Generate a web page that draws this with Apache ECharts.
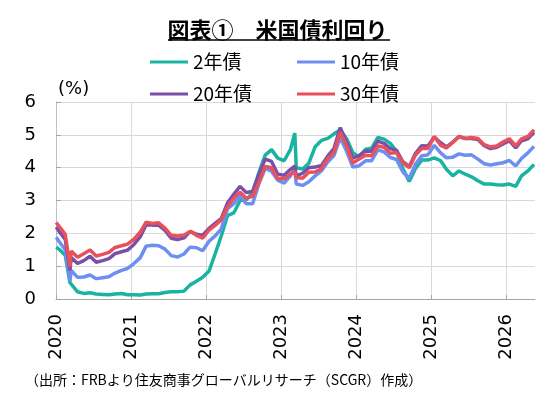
<!DOCTYPE html>
<html>
<head>
<meta charset="utf-8">
<script src="https://cdn.jsdelivr.net/npm/echarts@6/dist/echarts.min.js"></script>
<style>
  html, body { margin: 0; padding: 0; background: #fff; }
  #main { width: 555px; height: 401px; }
</style>
</head>
<body>
<div id="main"></div>
<script>
// yields (%), mostly mid-month readings plus a few turning points
var dates = [
  "2020-01-02", "2020-01-15", "2020-02-15", "2020-03-09", "2020-03-15", "2020-04-15", "2020-05-15",
  "2020-06-15", "2020-07-15", "2020-08-15", "2020-09-15", "2020-10-15", "2020-11-15", "2020-12-15",
  "2021-01-15", "2021-02-15", "2021-03-15", "2021-04-15", "2021-05-15", "2021-06-15",
  "2021-07-15", "2021-08-15", "2021-09-15", "2021-10-15", "2021-11-15", "2021-12-15",
  "2022-01-15", "2022-02-15", "2022-03-15", "2022-04-15", "2022-05-15", "2022-06-15",
  "2022-07-15", "2022-08-15", "2022-09-15", "2022-10-15", "2022-11-15", "2022-12-15",
  "2023-01-15", "2023-02-15", "2023-03-08", "2023-03-15", "2023-04-15", "2023-05-15", "2023-06-15",
  "2023-07-15", "2023-08-15", "2023-09-15", "2023-10-15", "2023-11-15", "2023-12-15",
  "2024-01-15", "2024-02-15", "2024-03-15", "2024-04-15", "2024-05-15", "2024-06-15",
  "2024-07-15", "2024-08-15", "2024-09-15", "2024-10-15", "2024-11-15", "2024-12-15",
  "2025-01-15", "2025-02-15", "2025-03-15", "2025-04-15", "2025-05-15", "2025-06-15",
  "2025-07-15", "2025-08-15", "2025-09-15", "2025-10-15", "2025-11-15", "2025-12-15",
  "2026-01-15", "2026-02-15", "2026-03-15", "2026-04-15", "2026-05-15"
];

var y2 = [
  1.58, 1.52, 1.33, 0.50, 0.45, 0.22, 0.17, 0.19, 0.15, 0.14, 0.13, 0.15, 0.17, 0.13,
  0.13, 0.12, 0.15, 0.16, 0.16, 0.20, 0.22, 0.22, 0.24, 0.43, 0.54, 0.66,
  0.85, 1.40, 1.91, 2.54, 2.62, 3.00, 3.02, 3.25, 3.86, 4.38, 4.55, 4.29,
  4.21, 4.56, 5.05, 4.00, 3.96, 4.13, 4.64, 4.83, 4.89, 5.03, 5.15, 4.88, 4.46,
  4.32, 4.56, 4.59, 4.92, 4.87, 4.74, 4.50, 3.97, 3.58, 3.97, 4.23, 4.23,
  4.30, 4.21, 3.95, 3.75, 3.90, 3.80, 3.72, 3.60, 3.50, 3.50, 3.48, 3.47,
  3.50, 3.43, 3.75, 3.90, 4.10
];
var y10 = [
  1.88, 1.76, 1.50, 0.54, 0.87, 0.66, 0.67, 0.73, 0.62, 0.65, 0.68, 0.79, 0.87, 0.93,
  1.08, 1.26, 1.61, 1.64, 1.62, 1.52, 1.32, 1.28, 1.37, 1.58, 1.56, 1.47,
  1.76, 1.93, 2.13, 2.75, 2.90, 3.14, 2.90, 2.90, 3.52, 3.98, 3.89, 3.62,
  3.53, 3.75, 3.98, 3.50, 3.46, 3.57, 3.75, 3.90, 4.17, 4.38, 4.92, 4.50, 4.02,
  4.06, 4.21, 4.21, 4.54, 4.48, 4.31, 4.25, 3.87, 3.68, 4.10, 4.36, 4.39,
  4.68, 4.45, 4.30, 4.32, 4.42, 4.38, 4.39, 4.26, 4.12, 4.08, 4.12, 4.15,
  4.22, 4.05, 4.28, 4.45, 4.65
];
var y20 = [
  2.19, 2.07, 1.81, 0.87, 1.26, 1.08, 1.17, 1.30, 1.12, 1.17, 1.23, 1.38, 1.44, 1.49,
  1.66, 1.90, 2.26, 2.25, 2.25, 2.09, 1.85, 1.81, 1.86, 2.06, 1.97, 1.94,
  2.15, 2.31, 2.45, 2.93, 3.19, 3.43, 3.24, 3.28, 3.81, 4.26, 4.19, 3.80,
  3.77, 3.95, 4.05, 3.75, 3.83, 4.00, 4.02, 4.06, 4.35, 4.59, 5.22, 4.77, 4.29,
  4.37, 4.51, 4.50, 4.81, 4.74, 4.58, 4.53, 4.18, 4.03, 4.43, 4.67, 4.66,
  4.93, 4.76, 4.63, 4.78, 4.95, 4.89, 4.89, 4.86, 4.67, 4.58, 4.62, 4.72,
  4.82, 4.60, 4.82, 4.88, 5.08
];
var y30 = [
  2.33, 2.22, 1.97, 0.99, 1.46, 1.27, 1.38, 1.49, 1.31, 1.36, 1.42, 1.57, 1.62, 1.67,
  1.82, 2.04, 2.34, 2.30, 2.32, 2.16, 1.94, 1.92, 1.94, 2.06, 1.94, 1.85,
  2.10, 2.25, 2.41, 2.81, 3.07, 3.25, 3.07, 3.13, 3.56, 4.04, 4.00, 3.66,
  3.66, 3.80, 3.88, 3.70, 3.68, 3.86, 3.87, 3.96, 4.28, 4.47, 5.08, 4.66, 4.14,
  4.26, 4.38, 4.36, 4.66, 4.62, 4.44, 4.46, 4.15, 4.00, 4.38, 4.58, 4.58,
  4.95, 4.68, 4.60, 4.77, 4.94, 4.89, 4.92, 4.89, 4.70, 4.63, 4.66, 4.78,
  4.88, 4.66, 4.88, 4.95, 5.15
];

var yearTicks = [2020, 2021, 2022, 2023, 2024, 2025, 2026];
var seriesNames = ["2年債", "10年債", "20年債", "30年債"];
var seriesColors = ["#19b3a2", "#6e8ff2", "#7a4fa8", "#e8505b"];

// "YYYY-MM-DD" -> decimal year
function decYear(s) {
  var p = s.split("-").map(Number);
  var t0 = Date.UTC(p[0], 0, 1), t1 = Date.UTC(p[0] + 1, 0, 1);
  return p[0] + (Date.UTC(p[0], p[1] - 1, p[2]) - t0) / (t1 - t0);
}
function toPoints(arr) {
  return arr.map(function (v, i) { return [decYear(dates[i]), v]; });
}

var numFont = "DejaVu Sans, Noto Sans CJK JP, sans-serif";
var jpFont = "Noto Sans CJK JP, sans-serif";

var myChart = echarts.init(document.getElementById("main"));
var option = {
  animation: false,
  title: [
    {
      text: "図表①　米国債利回り",
      left: "center",
      top: 14,
      textStyle: { fontFamily: jpFont, fontSize: 22, fontWeight: "bold", color: "#000" }
    },
    {
      text: "（出所：FRBより住友商事グローバルリサーチ（SCGR）作成）",
      left: 20,
      top: 368,
      textStyle: { fontFamily: jpFont, fontSize: 14, fontWeight: "normal", color: "#000" }
    }
  ],
  graphic: [
    {
      type: "line",
      shape: { x1: 168, y1: 40, x2: 390, y2: 40 },
      style: { stroke: "#404040", lineWidth: 2 }
    }
  ],
  legend: [
    {
      data: [seriesNames[0], seriesNames[2]],
      orient: "vertical",
      left: 145,
      top: 47,
      itemWidth: 38,
      itemHeight: 3,
      itemGap: 12,
      icon: "rect",
      textStyle: { fontFamily: jpFont, fontSize: 19, color: "#000", lineHeight: 20 }
    },
    {
      data: [seriesNames[1], seriesNames[3]],
      orient: "vertical",
      left: 292,
      top: 47,
      itemWidth: 38,
      itemHeight: 3,
      itemGap: 12,
      icon: "rect",
      textStyle: { fontFamily: jpFont, fontSize: 19, color: "#000", lineHeight: 20 }
    }
  ],
  grid: { left: 56, right: 20, top: 102, bottom: 102, containLabel: false },
  xAxis: {
    type: "value",
    min: 2020,
    max: 2026.38,
    interval: 1,
    axisLine: { show: true, lineStyle: { color: "#a6a6a6", width: 1 } },
    axisTick: { show: true, inside: true, length: 4, customValues: yearTicks, lineStyle: { color: "#a6a6a6" } },
    axisLabel: {
      customValues: yearTicks,
      rotate: 90,
      margin: 15,
      fontFamily: numFont,
      fontSize: 18,
      color: "#000",
      formatter: function (v) { return Number.isInteger(v) ? String(v) : ""; }
    },
    splitLine: {
      show: true,
      lineStyle: {
        color: ["#d9d9d9", "#d9d9d9", "#d9d9d9", "#d9d9d9", "#d9d9d9", "#d9d9d9", "#d9d9d9", "rgba(0,0,0,0)"],
        width: 1
      }
    }
  },
  yAxis: {
    type: "value",
    min: 0,
    max: 6,
    interval: 1,
    name: "(%)",
    nameLocation: "end",
    nameGap: 4,
    nameTextStyle: { fontFamily: numFont, fontSize: 18, color: "#000", align: "left", padding: [0, 0, 0, 2] },
    axisLine: { show: true, lineStyle: { color: "#bfbfbf" } },
    axisTick: { show: true, inside: true, length: 5, lineStyle: { color: "#a6a6a6" } },
    axisLabel: { margin: 20, fontFamily: numFont, fontSize: 18, color: "#000" },
    splitLine: { show: true, lineStyle: { color: "#d9d9d9", width: 1 } }
  },
  series: [y2, y10, y20, y30].map(function (arr, k) {
    return {
      name: seriesNames[k],
      type: "line",
      data: toPoints(arr),
      showSymbol: false,
      symbol: "none",
      color: seriesColors[k],
      lineStyle: { width: 3.5, color: seriesColors[k] }
    };
  })
};
myChart.setOption(option);
</script>
</body>
</html>
